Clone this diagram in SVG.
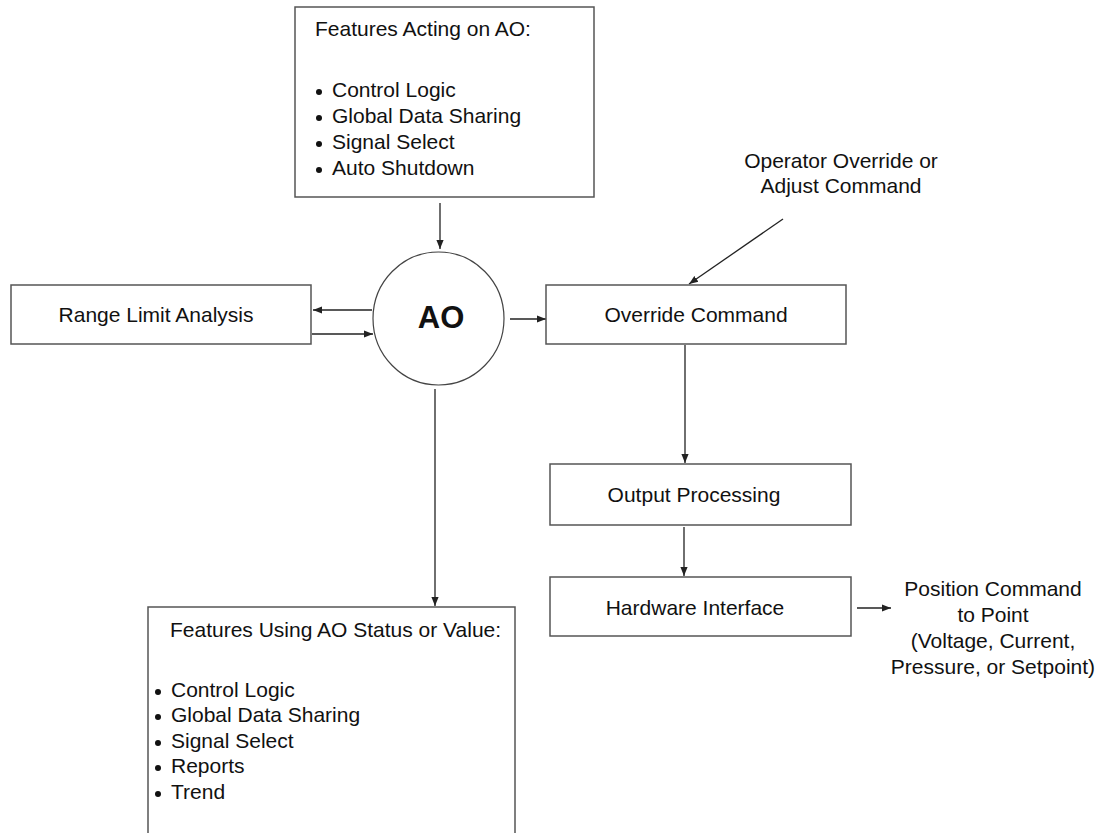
<svg xmlns="http://www.w3.org/2000/svg" width="1108" height="833" viewBox="0 0 1108 833">
<style>
.box{fill:#fff;stroke:#555;stroke-width:1.5}
.t{font-family:"Liberation Sans",Arial,sans-serif;font-size:21px;fill:#111}
.c{text-anchor:middle}
.ln{stroke:#222;stroke-width:1.3;fill:none}
.b{fill:#111}
</style>
<defs>
<marker id="ah" viewBox="0 0 10 10" refX="10" refY="5" markerWidth="9" markerHeight="9" orient="auto" markerUnits="userSpaceOnUse">
<path d="M0,1 L10,5 L0,9 z" fill="#222"/>
</marker>
</defs>
<rect width="1108" height="833" fill="#fff"/>

<g id="connectors">
<line class="ln" x1="440" y1="203" x2="440" y2="249" marker-end="url(#ah)"/>
<line class="ln" x1="372" y1="310" x2="313" y2="310" marker-end="url(#ah)"/>
<line class="ln" x1="312" y1="334" x2="373" y2="334" marker-end="url(#ah)"/>
<line class="ln" x1="510" y1="319" x2="546" y2="319" marker-end="url(#ah)"/>
<line class="ln" x1="783" y1="219" x2="689" y2="284" marker-end="url(#ah)"/>
<line class="ln" x1="685" y1="345" x2="685" y2="463" marker-end="url(#ah)"/>
<line class="ln" x1="684" y1="527" x2="684" y2="576" marker-end="url(#ah)"/>
<line class="ln" x1="435" y1="389" x2="435" y2="606" marker-end="url(#ah)"/>
<line class="ln" x1="857" y1="608" x2="891" y2="608" marker-end="url(#ah)"/>
</g>

<g id="features-acting">
<rect class="box" x="295" y="7" width="299" height="190"/>
<text class="t" x="315" y="36">Features Acting on AO:</text>
<circle class="b" cx="319" cy="92" r="3"/>
<text class="t" x="332" y="97">Control Logic</text>
<circle class="b" cx="319" cy="118" r="3"/>
<text class="t" x="332" y="123">Global Data Sharing</text>
<circle class="b" cx="319" cy="144" r="3"/>
<text class="t" x="332" y="149">Signal Select</text>
<circle class="b" cx="319" cy="170" r="3"/>
<text class="t" x="332" y="175">Auto Shutdown</text>
</g>

<g id="ao">
<ellipse cx="438.5" cy="318.5" rx="65.5" ry="66.5" fill="#fff" stroke="#444" stroke-width="1.2"/>
<text class="t c" x="441" y="328" style="font-size:31px;font-weight:bold">AO</text>
</g>

<g id="range-limit">
<rect class="box" x="11" y="285" width="300" height="59"/>
<text class="t c" x="156" y="322">Range Limit Analysis</text>
</g>

<g id="override">
<rect class="box" x="546" y="285" width="300" height="59"/>
<text class="t c" x="696" y="322">Override Command</text>
</g>

<g id="operator">
<text class="t c" x="841" y="168">Operator Override or</text>
<text class="t c" x="841" y="193">Adjust Command</text>
</g>

<g id="output-processing">
<rect class="box" x="550" y="464" width="301" height="61"/>
<text class="t c" x="694" y="502">Output Processing</text>
</g>

<g id="hardware">
<rect class="box" x="550" y="577" width="301" height="59"/>
<text class="t c" x="695" y="615">Hardware Interface</text>
</g>

<g id="position">
<text class="t c" x="993" y="596">Position Command</text>
<text class="t c" x="993" y="622">to Point</text>
<text class="t c" x="993" y="648">(Voltage, Current,</text>
<text class="t c" x="993" y="674">Pressure, or Setpoint)</text>
</g>

<g id="features-using">
<rect class="box" x="148" y="607" width="367" height="240"/>
<text class="t" x="170" y="637">Features Using AO Status or Value:</text>
<circle class="b" cx="158" cy="692" r="3"/>
<text class="t" x="171" y="697">Control Logic</text>
<circle class="b" cx="158" cy="717" r="3"/>
<text class="t" x="171" y="722">Global Data Sharing</text>
<circle class="b" cx="158" cy="743" r="3"/>
<text class="t" x="171" y="748">Signal Select</text>
<circle class="b" cx="158" cy="768" r="3"/>
<text class="t" x="171" y="773">Reports</text>
<circle class="b" cx="158" cy="794" r="3"/>
<text class="t" x="171" y="799">Trend</text>
</g>
</svg>
